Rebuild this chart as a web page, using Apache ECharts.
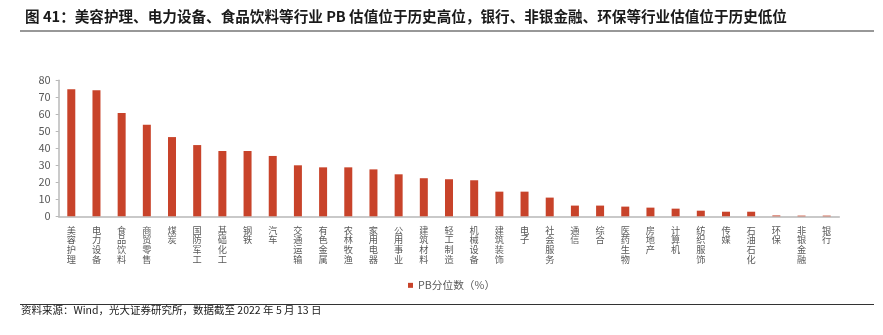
<!DOCTYPE html>
<html>
<head>
<meta charset="utf-8">
<script src="https://cdn.jsdelivr.net/npm/echarts@6/dist/echarts.min.js"></script>
<style>html,body{margin:0;padding:0;background:#fff}#c{width:883px;height:335px}</style>
</head>
<body>
<div id="c"></div>
<script>
var categories = ['美容护理','电力设备','食品饮料','商贸零售','煤炭','国防军工','基础化工','钢铁','汽车','交通运输','有色金属','农林牧渔','家用电器','公用事业','建筑材料','轻工制造','机械设备','建筑装饰','电子','社会服务','通信','综合','医药生物','房地产','计算机','纺织服饰','传媒','石油石化','环保','非银金融','银行'];
var pbPercentile = [74.7,74.1,60.8,53.9,46.6,41.9,38.4,38.4,35.5,30.0,28.8,28.8,27.6,24.7,22.4,21.8,21.2,14.5,14.5,11.0,6.3,6.3,5.7,5.1,4.5,3.3,2.7,2.7,0.5,0.4,0.4];
var yTicks = [0,10,20,30,40,50,60,70,80];
var seriesName = 'PB分位数（%）';
var titleText = '图 41：美容护理、电力设备、食品饮料等行业 PB 估值位于历史高位，银行、非银金融、环保等行业估值位于历史低位';
var sourceText = '资料来源：Wind，光大证券研究所，数据截至 2022 年 5 月 13 日';

var chart = echarts.init(document.getElementById('c'));
var FONT = '"Noto Sans CJK SC", "Noto Sans", sans-serif';
chart.setOption({
  animation: false,
  textStyle: {fontFamily: FONT},
  title: {
    text: titleText, left: 20, top: 4,
    textStyle: {fontSize: 14.6, fontWeight: 'bold', color: '#1a1a1a', fontFamily: FONT}
  },
  graphic: [
    {type: 'line', shape: {x1: 20, y1: 31, x2: 874, y2: 31}, style: {stroke: '#333', lineWidth: 1.2}},
    {type: 'line', shape: {x1: 20, y1: 304.5, x2: 874, y2: 304.5}, style: {stroke: '#333', lineWidth: 1.2}},
    {type: 'text', left: 21, top: 305, style: {text: sourceText, fontSize: 10.5, fill: '#1a1a1a', fontFamily: FONT}}
  ],
  legend: {
    left: 403, top: 275, itemWidth: 5, itemHeight: 5, icon: 'rect', itemGap: 4,
    textStyle: {fontSize: 10.7, color: '#595959', fontFamily: FONT},
    data: [seriesName]
  },
  grid: {left: 58.7, right: 43.7, top: 80.3, bottom: 118.7, containLabel: false},
  xAxis: {
    type: 'category', data: categories,
    axisLine: {lineStyle: {color: '#b8b8b8', width: 1.5}},
    axisTick: {inside: true, length: 3, alignWithLabel: false, lineStyle: {color: '#b8b8b8'}},
    axisLabel: {
      interval: 0, margin: 9, color: '#595959', fontSize: 9.2, lineHeight: 9.7,
      formatter: function (v) { return v.split('').join('\n'); }
    }
  },
  yAxis: {
    type: 'value', min: yTicks[0], max: yTicks[yTicks.length - 1], interval: 10,
    splitLine: {show: false},
    axisLine: {show: true, lineStyle: {color: '#b8b8b8', width: 1.5}},
    axisTick: {show: true, length: 3, lineStyle: {color: '#b8b8b8'}},
    axisLabel: {color: '#595959', fontSize: 11, margin: 8}
  },
  series: [{
    name: seriesName, type: 'bar', data: pbPercentile, barWidth: 8,
    itemStyle: {color: '#C8432A'}
  }]
});
</script>
</body>
</html>
